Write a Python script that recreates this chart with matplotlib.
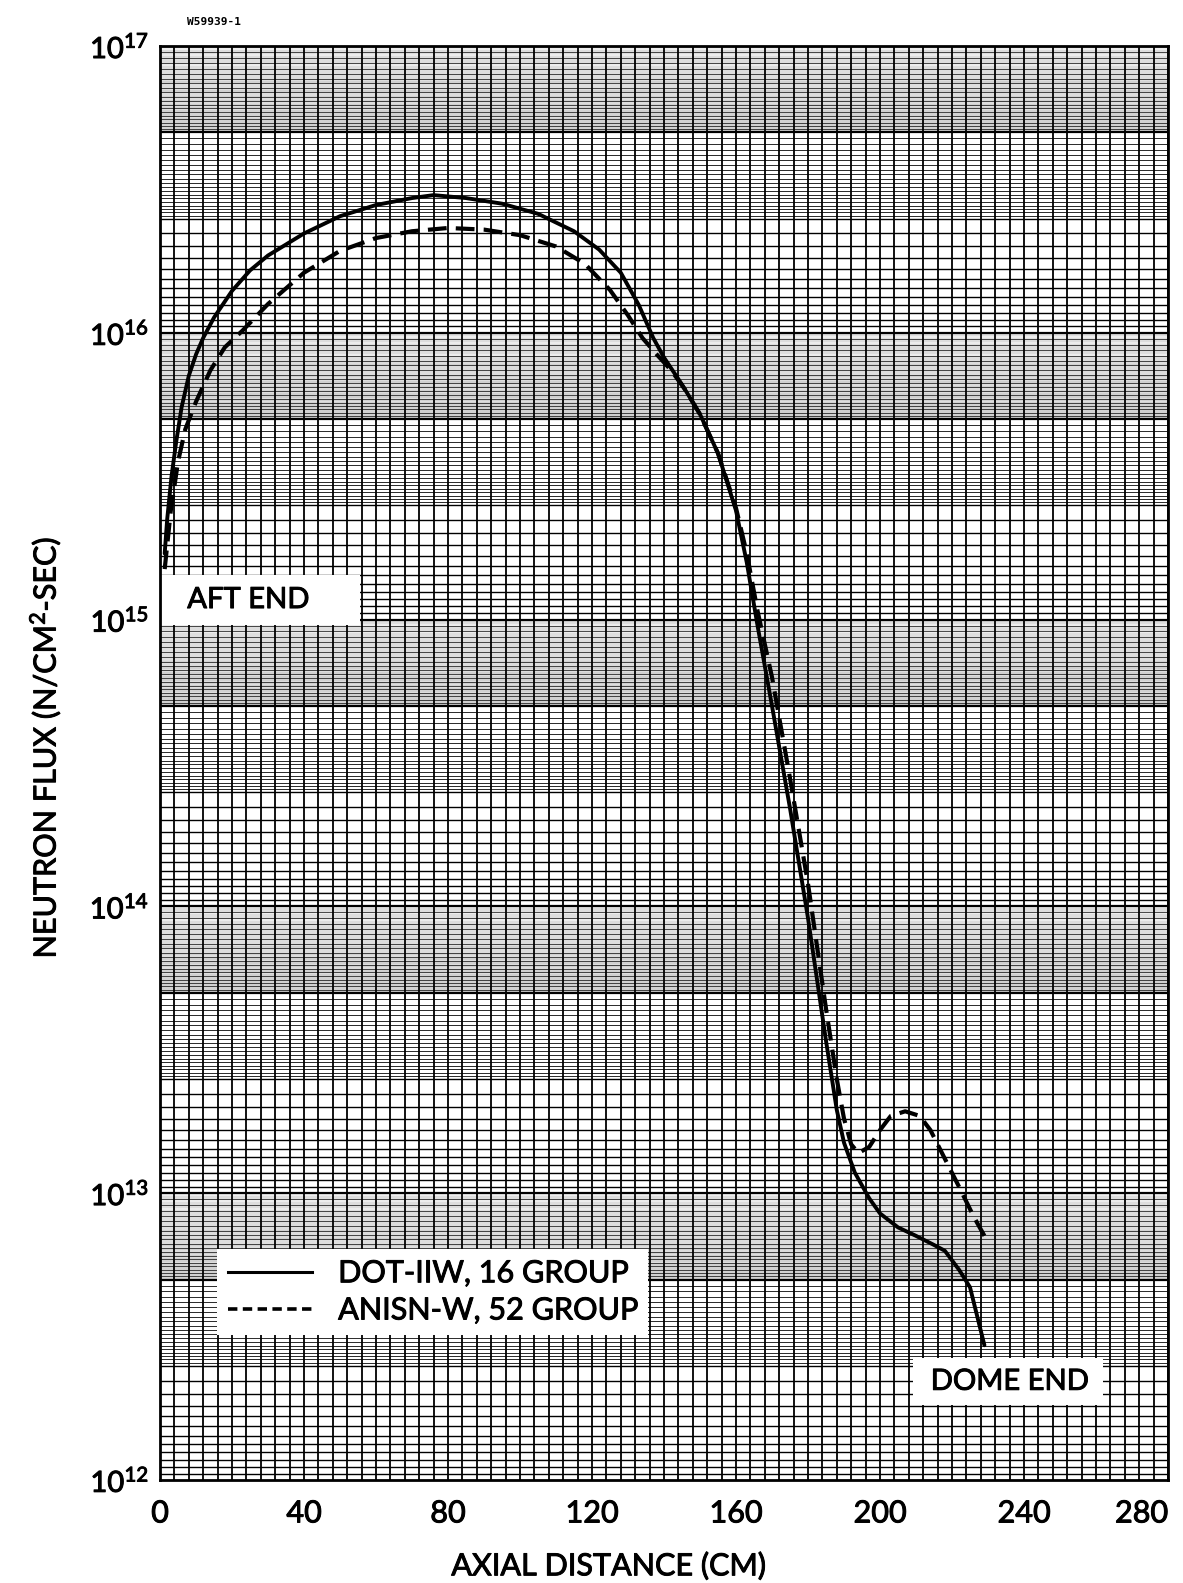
import numpy as np
import matplotlib
matplotlib.use("Agg")
import matplotlib.pyplot as plt
import matplotlib.patheffects as pe
from matplotlib.patches import Rectangle
from matplotlib.lines import Line2D

plt.rcParams['font.family'] = ['Lato', 'DejaVu Sans']

# DOT-IIW, 16 group (solid)
dot_x = [1.3, 2, 3.2, 4.5, 6, 8, 10, 12, 15, 20, 25, 30, 40, 50, 60, 70, 76, 85, 95, 105,
         115, 122, 128, 133, 137, 140, 145, 150, 155, 160, 163, 166, 170, 175, 180, 185,
         188, 190, 193, 197, 200, 205, 210, 215, 218, 222, 225, 229]
dot_y = [1.7e15, 2.24e15, 3.16e15, 4.17e15, 5.5e15, 7.08e15, 8.4e15, 9.6e15, 1.13e16, 1.4e16,
         1.65e16, 1.86e16, 2.22e16, 2.55e16, 2.79e16, 2.95e16, 3.02e16, 2.95e16, 2.82e16, 2.6e16,
         2.26e16, 1.95e16, 1.62e16, 1.25e16, 9.6e15, 8.2e15, 6.6e15, 5.2e15, 3.8e15, 2.4e15,
         1.58e15, 9.5e14, 5.0e14, 2.2e14, 9.1e13, 3.4e13,
         1.95e13, 1.5e13, 1.18e13, 9.6e12, 8.5e12, 7.6e12, 7.1e12, 6.6e12, 6.3e12, 5.4e12, 4.7e12, 2.95e12]

# ANISN-W, 52 group (dashed)
anisn_x = [1.3, 3, 5, 7, 10, 14, 18, 23, 30, 40, 50, 60, 70, 80, 90, 100, 110, 118, 125,
           130, 134, 138, 142, 146, 150, 155, 160, 163, 166, 170, 175, 180, 185, 188, 190, 192,
           194, 197, 200, 203, 207, 211, 214, 218, 222, 226, 229]
anisn_y = [1.5e15, 2.4e15, 3.55e15, 4.6e15, 5.75e15, 7.4e15, 8.9e15, 1.02e16, 1.26e16, 1.62e16,
           1.93e16, 2.14e16, 2.26e16, 2.32e16, 2.29e16, 2.19e16, 2.0e16, 1.74e16, 1.41e16,
           1.15e16, 9.6e15, 8.4e15, 7.4e15, 6.3e15, 5.2e15, 3.8e15, 2.45e15, 1.7e15, 1.07e15, 6.3e14, 2.8e14,
           1.2e14, 4.4e13, 2.5e13, 1.82e13, 1.48e13,
           1.38e13, 1.45e13, 1.66e13, 1.86e13, 1.93e13, 1.86e13, 1.66e13, 1.32e13, 1.05e13, 8.3e12, 7.1e12]

x_ticks = [0, 40, 80, 120, 160, 200, 240, 280]
decades = [12, 13, 14, 15, 16, 17]

thick = [pe.withStroke(linewidth=0.7, foreground='black')]

fig = plt.figure(figsize=(11.83, 15.83), dpi=100)
ax = fig.add_axes([160/1183, 1-1480/1583, 1008/1183, 1434/1583])
ax.set_yscale('log')
ax.set_xlim(0, 280)
ax.set_ylim(1e12, 1e17)

# graph paper (log scale printed upside down: densest just below each decade)
yt = ax.get_yaxis_transform()
for n in decades[:-1]:
    top = 10.0 ** (n + 1)
    ax.hlines(top / np.arange(1, 2, 0.01), 0, 1, transform=yt, colors='0.66', lw=0.3, zorder=1)
    ax.hlines(top / np.arange(1, 2, 0.05), 0, 1, transform=yt, colors='0.1', lw=0.55, zorder=1)
    ax.hlines(top / np.arange(2, 4, 0.1), 0, 1, transform=yt, colors='0.1', lw=0.65, zorder=1)
    ax.hlines(top / np.arange(4, 10, 0.5), 0, 1, transform=yt, colors='black', lw=1.0, zorder=1)
    ax.hlines([top, top / 2], 0, 1, transform=yt, colors='black', lw=1.6, zorder=1)
ax.vlines(np.arange(0, 281, 4), 0, 1, transform=ax.get_xaxis_transform(), colors='black', lw=1.3, zorder=1)

# label boxes
ax.add_patch(Rectangle((0, 9.6e14), 55.5, 1.43e15 - 9.6e14, facecolor='white', edgecolor='none', zorder=2))
ax.text(24.5, 1.17e15, 'AFT END', ha='center', va='center', fontsize=21, zorder=3, path_effects=thick)
ax.add_patch(Rectangle((209.3, 1.82e12), 52.7, 2.67e12 - 1.82e12, facecolor='white', edgecolor='none', zorder=2))
ax.text(236, 2.2e12, 'DOME END', ha='center', va='center', fontsize=21, zorder=3, path_effects=thick)

ax.plot(dot_x, dot_y, color='black', lw=2.8, solid_capstyle='round', zorder=4)
ax.plot(anisn_x, anisn_y, color='black', lw=3.0, dashes=(4.5, 2.2), zorder=4)

handles = [Line2D([], [], color='black', lw=2.2),
           Line2D([], [], color='black', lw=2.6, dashes=(2.6, 1.5))]
leg = ax.legend(handles, ['DOT-IIW, 16 GROUP', 'ANISN-W, 52 GROUP'], loc='lower left',
                bbox_to_anchor=(0.057, 0.101), fontsize=22, frameon=True,
                fancybox=False, edgecolor='none', framealpha=1, handlelength=2.75,
                handletextpad=0.85, labelspacing=0.3, borderpad=0.35, borderaxespad=0)
leg.set_zorder(5)
for t in leg.get_texts():
    t.set_path_effects(thick)

ax.set_xticks(x_ticks)
ax.set_xticklabels([str(v) for v in x_ticks])
ax.get_xticklabels()[-1].set_horizontalalignment('right')
ax.set_yticks([10.0 ** d for d in decades])
ax.set_yticklabels([r'$\mathregular{10^{%d}}$' % d for d in decades])
ax.yaxis.set_minor_locator(matplotlib.ticker.NullLocator())
ax.tick_params(axis='x', length=0, labelsize=22, pad=14)
ax.tick_params(axis='y', length=0, labelsize=21, pad=8)
for t in ax.get_xticklabels() + ax.get_yticklabels():
    t.set_path_effects(thick)
for s in ax.spines.values():
    s.set_linewidth(2.0)
    s.set_zorder(6)

fig.text(0.514, 1 - 1566/1583, 'AXIAL DISTANCE (CM)', ha='center', va='center', fontsize=22,
         path_effects=thick)
fig.text(45/1183, 1 - 748/1583, r'NEUTRON FLUX (N/CM$\mathregular{^2}$-SEC)', ha='center', va='center',
         rotation=90, fontsize=22, path_effects=thick)
fig.text(187/1183, 1 - 22/1583, 'W59939-1', ha='left', va='center', fontsize=8,
         family='DejaVu Sans Mono', weight='bold')

fig.savefig('out.png', dpi=100, facecolor='white')
